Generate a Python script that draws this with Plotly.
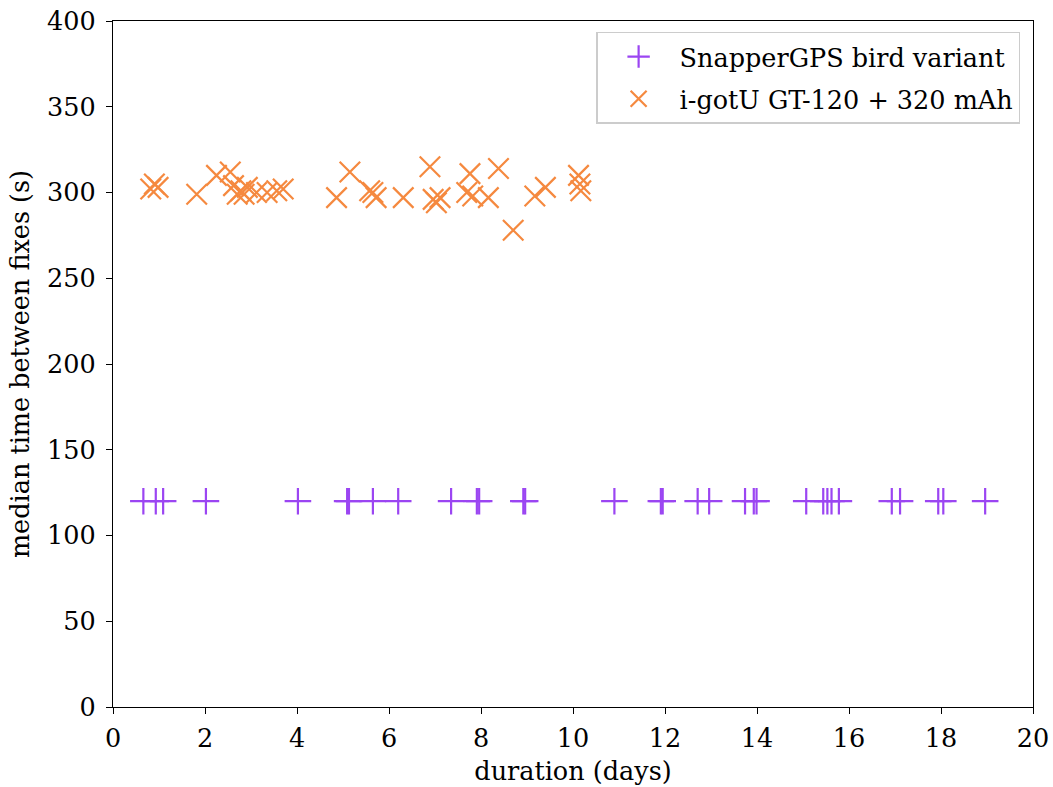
import plotly.graph_objects as go

snap_days = [0.66, 0.93, 1.09, 2.02, 4.02, 5.09, 5.13, 5.65, 6.20, 7.35, 7.91, 7.96,
             8.92, 8.96, 10.90, 11.91, 11.95, 12.71, 12.96, 13.74, 13.93, 13.99,
             15.07, 15.44, 15.53, 15.62, 15.78, 16.93, 17.11, 17.94, 18.05, 18.96]
snap_median = [120] * len(snap_days)

igot_days = [0.82, 0.90, 0.98, 1.82, 2.25, 2.55, 2.62, 2.70, 2.78, 2.85, 2.92, 3.12,
             3.35, 3.56, 3.70, 4.86, 5.15, 5.58, 5.65, 5.72, 6.31, 6.89, 6.96, 7.03,
             7.11, 7.69, 7.76, 7.82, 8.16, 8.38, 8.70, 9.17, 9.40, 10.12, 10.15, 10.17]
igot_median = [302, 305, 303, 299, 310, 312, 304, 299, 301, 299, 303, 300,
               300, 301, 302, 297, 312, 301, 300, 297, 297, 315, 296, 294,
               297, 300, 311, 298, 297, 314, 278, 298, 303, 310, 305, 301]

x_ticks = [0, 2, 4, 6, 8, 10, 12, 14, 16, 18, 20]
y_ticks = [0, 50, 100, 150, 200, 250, 300, 350, 400]

purple = "#9b45f2"
orange = "#f5893f"
font = "DejaVu Serif"
fs = 25.5

fig = go.Figure()
fig.add_trace(go.Scatter(
    x=snap_days, y=snap_median, mode="markers", name="SnapperGPS bird variant",
    legendgroup="a",
    marker=dict(symbol="cross-thin", size=19, line=dict(color=purple, width=2.2), color=purple),
))
fig.add_trace(go.Scatter(
    x=igot_days, y=igot_median, mode="markers", name="i-gotU GT-120 + 320 mAh",
    legendgroup="b",
    marker=dict(symbol="x-thin", size=20.5, line=dict(color=orange, width=2.2), color=orange),
))

axis_common = dict(
    showline=True, linecolor="black", linewidth=1.3, mirror=True,
    ticks="outside", ticklen=6, tickwidth=1.3, tickcolor="black",
    showgrid=False, zeroline=False, automargin=False,
    tickfont=dict(family=font, size=fs, color="black"),
)
fig.update_xaxes(range=[0, 20], tickvals=x_ticks, ticklabelstandoff=2,
                 title=dict(text="duration (days)", font=dict(family=font, size=fs, color="black"), standoff=10),
                 **axis_common)
fig.update_yaxes(range=[0, 400], tickvals=y_ticks, ticklabelstandoff=5,
                 title=dict(text="median time between fixes (s)", font=dict(family=font, size=fs, color="black"), standoff=10),
                 **axis_common)

fig.update_layout(
    width=1053, height=787,
    margin=dict(l=113, r=20, t=21, b=80),
    plot_bgcolor="white", paper_bgcolor="white",
    font=dict(family=font, size=fs, color="black"),
    legend=dict(
        x=0.986, y=0.984, xanchor="right", yanchor="top",
        bgcolor="white", bordercolor="#cccccc", borderwidth=1.5,
        font=dict(family=font, size=fs, color="black"),
        traceorder="grouped", tracegroupgap=6,
        itemwidth=72,
    ),
)

fig.write_html("out.html")
